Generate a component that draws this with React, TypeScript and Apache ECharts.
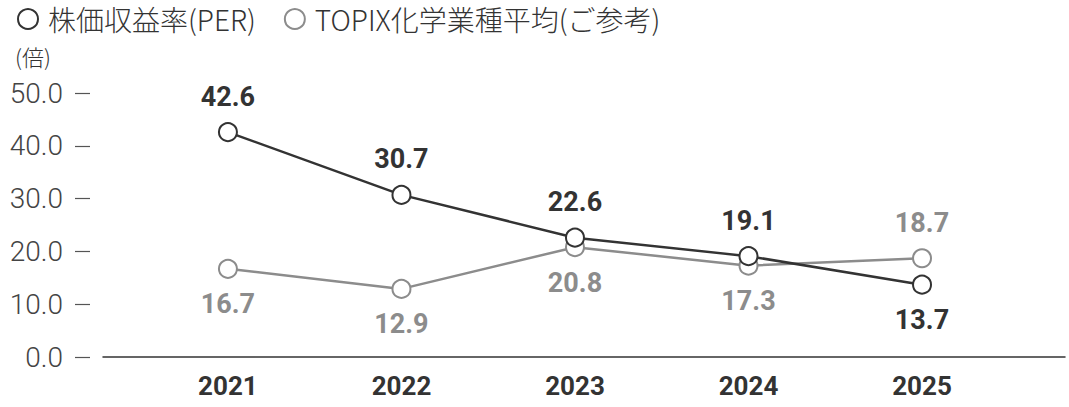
import { useEffect, useRef } from "react";
import * as echarts from "echarts";

const years = ["2021", "2022", "2023", "2024", "2025"];
const perValues = [42.6, 30.7, 22.6, 19.1, 13.7];
const topixValues = [16.7, 12.9, 20.8, 17.3, 18.7];
// label placement per point: true = above the marker
const perLabelTop = [true, true, true, true, false];
const topixLabelTop = [false, false, false, false, true];
const yTicks = [0, 10, 20, 30, 40, 50];

const jpFont = '"Noto Sans CJK JP", sans-serif';
const numFont = 'Roboto, "Noto Sans", sans-serif';
const dark = "#333333";
const gray = "#8c8c8c";

function toPoints(values: number[], tops: boolean[], color: string) {
  return values.map((v, i) => ({
    value: [i, v],
    label: { position: tops[i] ? "top" : "bottom", color },
  }));
}

export default function App() {
  const chartRef = useRef<HTMLDivElement>(null);

  useEffect(() => {
    if (!chartRef.current) return;
    const chart = echarts.init(chartRef.current, null, { renderer: "svg" });

    const labelCommon = {
      show: true,
      distance: 12,
      fontFamily: numFont,
      fontWeight: 700,
      fontSize: 27,
      formatter: (p: any) => p.value[1].toFixed(1),
    };

    chart.setOption({
      animation: false,
      backgroundColor: "#ffffff",
      title: {
        text: "(倍)",
        left: 10,
        top: 40,
        textStyle: { fontFamily: jpFont, fontWeight: 300, fontSize: 22, color: dark },
      },
      legend: {
        left: 12,
        top: 0,
        icon: "emptyCircle",
        itemWidth: 20,
        itemHeight: 20,
        itemGap: 28,
        itemStyle: { borderWidth: 3.5 },
        textStyle: { fontFamily: jpFont, fontWeight: 300, fontSize: 28, color: dark, padding: [0, 0, 0, 5] },
        data: [
          { name: "株価収益率(PER)", itemStyle: { borderColor: dark, borderWidth: 3.5 } },
          { name: "TOPIX化学業種平均(ご参考)", itemStyle: { borderColor: gray, borderWidth: 3.5 } },
        ],
      },
      grid: { left: 103, right: 4, top: 93, bottom: 50 },
      xAxis: {
        type: "value",
        min: -0.72,
        max: 4.824,
        axisLine: { show: true, onZero: false, lineStyle: { color: dark, width: 1.5 } },
        axisTick: { show: false },
        splitLine: { show: false },
        axisLabel: {
          customValues: years.map((_, i) => i),
          formatter: (v: number) => years[Math.round(v)] ?? "",
          margin: 16,
          fontFamily: numFont,
          fontWeight: 700,
          fontSize: 26,
          color: dark,
        },
      },
      yAxis: {
        type: "value",
        min: yTicks[0],
        max: yTicks[yTicks.length - 1],
        interval: 10,
        offset: 13,
        axisLine: { show: false, onZero: false },
        axisTick: { show: true, length: 15, lineStyle: { color: "#555555", width: 1.2 } },
        splitLine: { show: false },
        axisLabel: {
          margin: 27,
          formatter: (v: number) => v.toFixed(1),
          fontFamily: numFont,
          fontWeight: 300,
          fontSize: 28,
          color: "#444444",
        },
      },
      series: [
        {
          name: "TOPIX化学業種平均(ご参考)",
          type: "line",
          symbol: "emptyCircle",
          symbolSize: 18,
          lineStyle: { color: gray, width: 2.5 },
          itemStyle: { color: gray, borderWidth: 3 },
          label: labelCommon,
          data: toPoints(topixValues, topixLabelTop, gray),
          z: 2,
        },
        {
          name: "株価収益率(PER)",
          type: "line",
          symbol: "emptyCircle",
          symbolSize: 18,
          lineStyle: { color: dark, width: 2.5 },
          itemStyle: { color: dark, borderWidth: 3 },
          label: labelCommon,
          data: toPoints(perValues, perLabelTop, dark),
          z: 3,
        },
      ],
    });

    return () => chart.dispose();
  }, []);

  return (
    <div
      ref={chartRef}
      style={{ position: "absolute", left: 0, top: 0, width: 1069, height: 407 }}
    />
  );
}
